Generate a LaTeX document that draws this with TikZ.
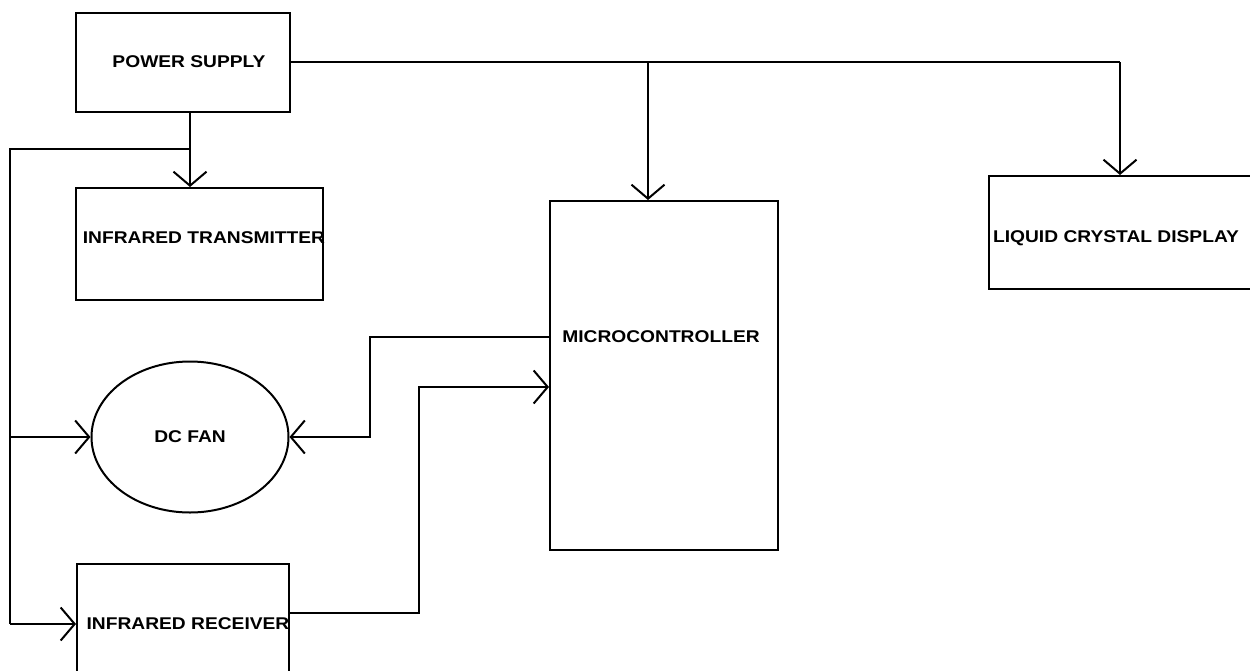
\documentclass[tikz,border=0pt]{standalone}
\usepackage{fontspec}
\setmainfont[FakeStretch=1.13]{Liberation Sans}
\usetikzlibrary{arrows.meta,shapes.geometric}
\begin{document}
\begin{tikzpicture}[x=1pt,y=-1pt,line width=2pt,
  box/.style={draw,rectangle,inner sep=0pt,anchor=north west},
  lbl/.style={font=\bfseries\fontsize{17}{19}\selectfont,inner sep=0pt},
  arr/.style={-{Straight Barb[length=14pt,width=33pt,line width=2pt]}}]
\clip (0,0) rectangle (1250,670);
\fill[white] (0,0) rectangle (1250,670);
% boxes
\node[box,minimum width=214pt,minimum height=99pt] (ps) at (75,12) {};
\node[box,minimum width=247pt,minimum height=112pt] (it) at (75,187) {};
\node[draw,ellipse,inner sep=0pt,minimum width=197pt,minimum height=151pt] (fan) at (190,437) {};
\node[box,minimum width=212pt,minimum height=130pt] (rx) at (76,563) {};
\node[box,minimum width=228pt,minimum height=349pt] (mc) at (549,200) {};
\node[box,minimum width=264pt,minimum height=113pt] (lcd) at (988,175) {};
% labels
\node[lbl] (pst) at (189,62) {POWER SUPPLY};
\node[lbl] (itt) at (204,238) {INFRARED TRANSMITTER};
\node[lbl] (fant) at (190,437) {DC FAN};
\node[lbl] (rxt) at (188,624) {INFRARED RECEIVER};
\node[lbl] (mct) at (661,337) {MICROCONTROLLER};
\node[lbl] (lcdt) at (1116,238) {LIQUID CRYSTAL DISPLAY};
% junction coordinates
\coordinate (psr) at (ps.east |- 0,62);
\coordinate (j1) at (648,62);
\coordinate (j2) at (1120,62);
\coordinate (psb) at (190,111);
\coordinate (j3) at (190,149);
\coordinate (l1) at (10,149);
\coordinate (l2) at (10,437);
\coordinate (l3) at (10,624);
\coordinate (m1) at (549,337);
\coordinate (m2) at (370,337);
\coordinate (m3) at (370,437);
\coordinate (r1) at (288,613);
\coordinate (r2) at (419,613);
\coordinate (r3) at (419,387);
% connectors
\draw (psr) -- (j2);
\draw[arr] (j2) -- (lcd.north -| j2);
\draw[arr] (j1) -- (mc.north -| j1);
\draw[arr] (psb) -- (it.north -| psb);
\draw (j3) -- (l1) -- (l3);
\draw[arr] (l3) -- (rx.west |- l3);
\draw[arr] (l2) -- (fan.west);
\draw[arr] (m1) -- (m2) -- (m3) -- (fan.east);
\draw[arr] (r1) -- (r2) -- (r3) -- (mc.west |- r3);
\end{tikzpicture}
\end{document}
